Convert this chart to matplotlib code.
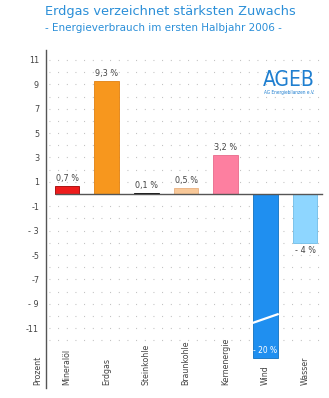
import matplotlib
matplotlib.use("Agg")
import matplotlib.pyplot as plt
import numpy as np

categories = ["Mineralöl", "Erdgas", "Steinkohle", "Braunkohle", "Kernenergie", "Wind", "Wasser"]
values = [0.7, 9.3, 0.1, 0.5, 3.2, -20.0, -4.0]
value_labels = ["0,7 %", "9,3 %", "0,1 %", "0,5 %", "3,2 %", "- 20 %", "- 4 %"]
colors = ["#ee1c1c", "#f7971e", "#111111", "#f8c898", "#fd7fa0", "#1f8ff0", "#8ed6ff"]
yticks = [11, 9, 7, 5, 3, 1, -1, -3, -5, -7, -9, -11]
ytick_labels = ["11", "9", "7", "5", "3", "1", "-1", "- 3", "-5", "-7", "- 9", "-11"]

BLUE = "#2b8fd8"
TEXT = "#444444"
NARROW = dict(family="DejaVu Sans", fontstretch="condensed")

fig = plt.figure(figsize=(3.29, 3.98), dpi=100)
fig.patch.set_facecolor("white")
ax = fig.add_axes([0.14, 0.025, 0.839, 0.849])
ymin, ymax = -15.9, 11.8
ax.set_ylim(ymin, ymax)
ax.set_xlim(-0.53, 6.43)

clip_floor = -13.4
x = np.arange(len(categories))

# dotted grid
for g in range(-12, 12):
    if g == 0:
        continue
    ax.plot([-0.45, 6.35], [g, g], color="#b8b8b8", lw=0.8,
            linestyle=(0, (0.8, 7)), zorder=0)

heights = [max(v, clip_floor) for v in values]
ax.bar(x, heights, width=0.62, color=colors, edgecolor=["#a00000", "#e08010", "#000000",
       "#e8b080", "#e86a8a", "#1070c0", "#70bde8"], linewidth=0.6, zorder=2)

# zero line
ax.plot([-0.28, 6.43], [0, 0], color="#555555", lw=1.0, zorder=3, clip_on=False)

for xi, v, h, lab in zip(x, values, heights, value_labels):
    if v < clip_floor:
        ax.text(xi, h + 0.25, lab, ha="center", va="bottom", color="white",
                fontsize=6.0, zorder=5, **NARROW)
        # break mark
        ax.plot([xi - 0.31, xi + 0.31], [h + 2.85, h + 3.55], color="white", lw=1.6, zorder=4)
    elif v >= 0:
        ax.text(xi, h + 0.25, lab, ha="center", va="bottom", color=TEXT,
                fontsize=6.5, zorder=5, **NARROW)
    else:
        ax.text(xi, h - 0.25, lab, ha="center", va="top", color=TEXT,
                fontsize=6.5, zorder=5, **NARROW)

# category labels
for xi, c in zip(x, categories):
    ax.text(xi, -15.65, c, rotation=90, ha="center", va="bottom", color=TEXT,
            fontsize=6.3, **NARROW)
ax.text(-0.73, -15.65, "Prozent", rotation=90, ha="center", va="bottom", color=TEXT,
        fontsize=6.3, clip_on=False, **NARROW)

ax.set_yticks(yticks)
ax.set_yticklabels(ytick_labels, fontsize=6.5, color=TEXT, **NARROW)
ax.tick_params(axis="y", length=0, pad=5)
ax.set_xticks([])
for s in ["top", "right", "bottom"]:
    ax.spines[s].set_visible(False)
ax.spines["left"].set_color("#555555")
ax.spines["left"].set_linewidth(1.0)

# titles
fig.text(0.137, 0.972, "Erdgas verzeichnet stärksten Zuwachs", color=BLUE,
         fontsize=9.3, ha="left", va="center", family="DejaVu Sans")
fig.text(0.137, 0.930, "- Energieverbrauch im ersten Halbjahr 2006 -", color=BLUE,
         fontsize=7.45, ha="left", va="center", family="DejaVu Sans")

# logo
fig.text(0.958, 0.800, "AGEB", color="#1f7fd0", fontsize=15, ha="right", va="center",
         family="DejaVu Sans", fontstretch="condensed")
fig.text(0.955, 0.767, "AG Energiebilanzen e.V.", color="#1f7fd0", fontsize=3.4,
         ha="right", va="center", **NARROW)

fig.savefig("out.png", dpi=100, facecolor="white")
